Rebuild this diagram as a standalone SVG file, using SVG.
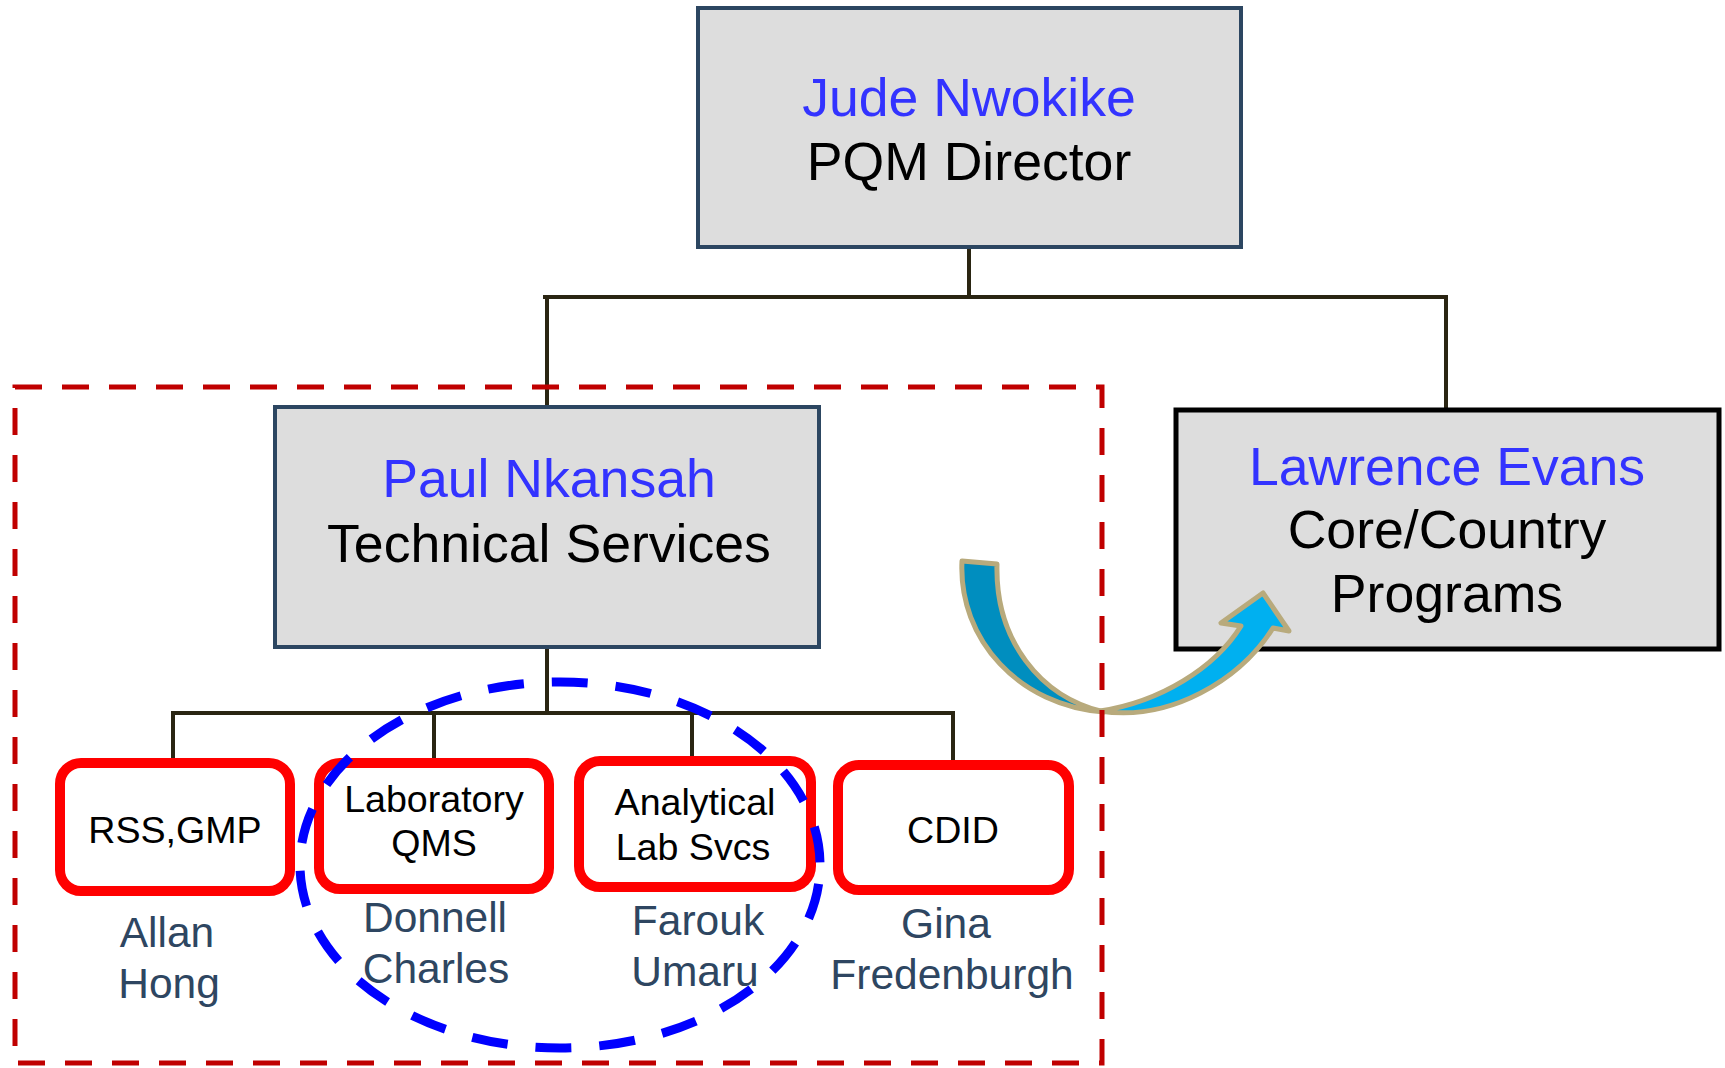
<svg xmlns="http://www.w3.org/2000/svg" width="1725" height="1068" viewBox="0 0 1725 1068">
  <defs>
    <style>
      text { font-family: "Liberation Sans", Arial, sans-serif; text-anchor: middle; }
      .mgr { fill: #dddddd; stroke: #2c4661; stroke-width: 4; }
      .mgr-dark { fill: #dddddd; stroke: #000000; stroke-width: 5; }
      .unit { fill: #ffffff; stroke: #ff0000; stroke-width: 10; }
      .person { fill: #3333ff; font-size: 53.6px; }
      .role { fill: #000000; font-size: 53.6px; }
      .unit-label { fill: #000000; font-size: 37.6px; }
      .staff { fill: #2e4661; font-size: 42.5px; }
      .link { fill: none; stroke: #2a2512; stroke-width: 4; }
      .team { fill: none; stroke: #c00000; stroke-width: 5; stroke-dasharray: 27 20; }
      .focus { fill: none; stroke: #0000ff; stroke-width: 9; stroke-dasharray: 36 28; stroke-dashoffset: -19; }
      .arrow { stroke: #b8aa7c; stroke-width: 5; stroke-linejoin: round; }
    </style>
  </defs>

  <rect width="1725" height="1068" fill="#ffffff"/>

  <!-- reporting lines -->
  <g id="connectors">
    <path class="link" d="M969 249 V297 M543 297 H1448 M547 297 V407 M1446 297 V409"/>
    <path class="link" d="M547 649 V713 M171 713 H955 M173 713 V760 M434 713 V760 M692 713 V767 M953 713 V762"/>
  </g>

  <g id="director">
    <rect class="mgr" x="698" y="8" width="543" height="239"/>
    <text class="person" x="969" y="116">Jude Nwokike</text>
    <text class="role" x="969" y="180">PQM Director</text>
  </g>

  <g id="technical-services">
    <rect class="mgr" x="275" y="407" width="544" height="240"/>
    <text class="person" x="549" y="497">Paul Nkansah</text>
    <text class="role" x="549" y="562">Technical Services</text>
  </g>

  <g id="core-country">
    <rect class="mgr-dark" x="1176" y="410" width="543" height="239"/>
    <text class="person" x="1447" y="485">Lawrence Evans</text>
    <text class="role" x="1447" y="548">Core/Country</text>
    <text class="role" x="1447" y="612">Programs</text>
  </g>

  <g id="rss-gmp">
    <rect class="unit" x="60" y="763" width="230" height="128" rx="21"/>
    <text class="unit-label" x="175" y="843">RSS,GMP</text>
    <text class="staff" x="167" y="947">Allan</text>
    <text class="staff" x="169" y="998">Hong</text>
  </g>

  <g id="lab-qms">
    <rect class="unit" x="319" y="763" width="230" height="126" rx="21"/>
    <text class="unit-label" x="434" y="812">Laboratory</text>
    <text class="unit-label" x="434" y="856">QMS</text>
    <text class="staff" x="435" y="932">Donnell</text>
    <text class="staff" x="436" y="983">Charles</text>
  </g>

  <g id="analytical-lab">
    <rect class="unit" x="579" y="761" width="232" height="126" rx="21"/>
    <text class="unit-label" x="695" y="815">Analytical</text>
    <text class="unit-label" x="693" y="860">Lab Svcs</text>
    <text class="staff" x="698" y="935">Farouk</text>
    <text class="staff" x="695" y="986">Umaru</text>
  </g>

  <g id="cdid">
    <rect class="unit" x="838" y="765" width="231" height="125" rx="21"/>
    <text class="unit-label" x="953" y="843">CDID</text>
    <text class="staff" x="946" y="938">Gina</text>
    <text class="staff" x="952" y="989">Fredenburgh</text>
  </g>

  <!-- curved transfer arrow -->
  <g id="transfer-arrow">
    <path class="arrow" fill="#008ebf" d="M962 561 L997 564 C995 640 1040 697 1104 712 C1020 706 958 640 962 561 Z"/>
    <path class="arrow" fill="#00b0f0" d="M1100 711 C1170 722 1240 680 1273 628 L1289 631 L1263 593 L1221 623 L1241 626 C1215 668 1160 702 1100 711 Z"/>
  </g>

  <!-- grouping outlines -->
  <rect id="technical-team" class="team" x="15" y="387" width="1087" height="676"/>
  <ellipse id="lab-focus" class="focus" cx="560" cy="865" rx="260" ry="183"/>
</svg>
